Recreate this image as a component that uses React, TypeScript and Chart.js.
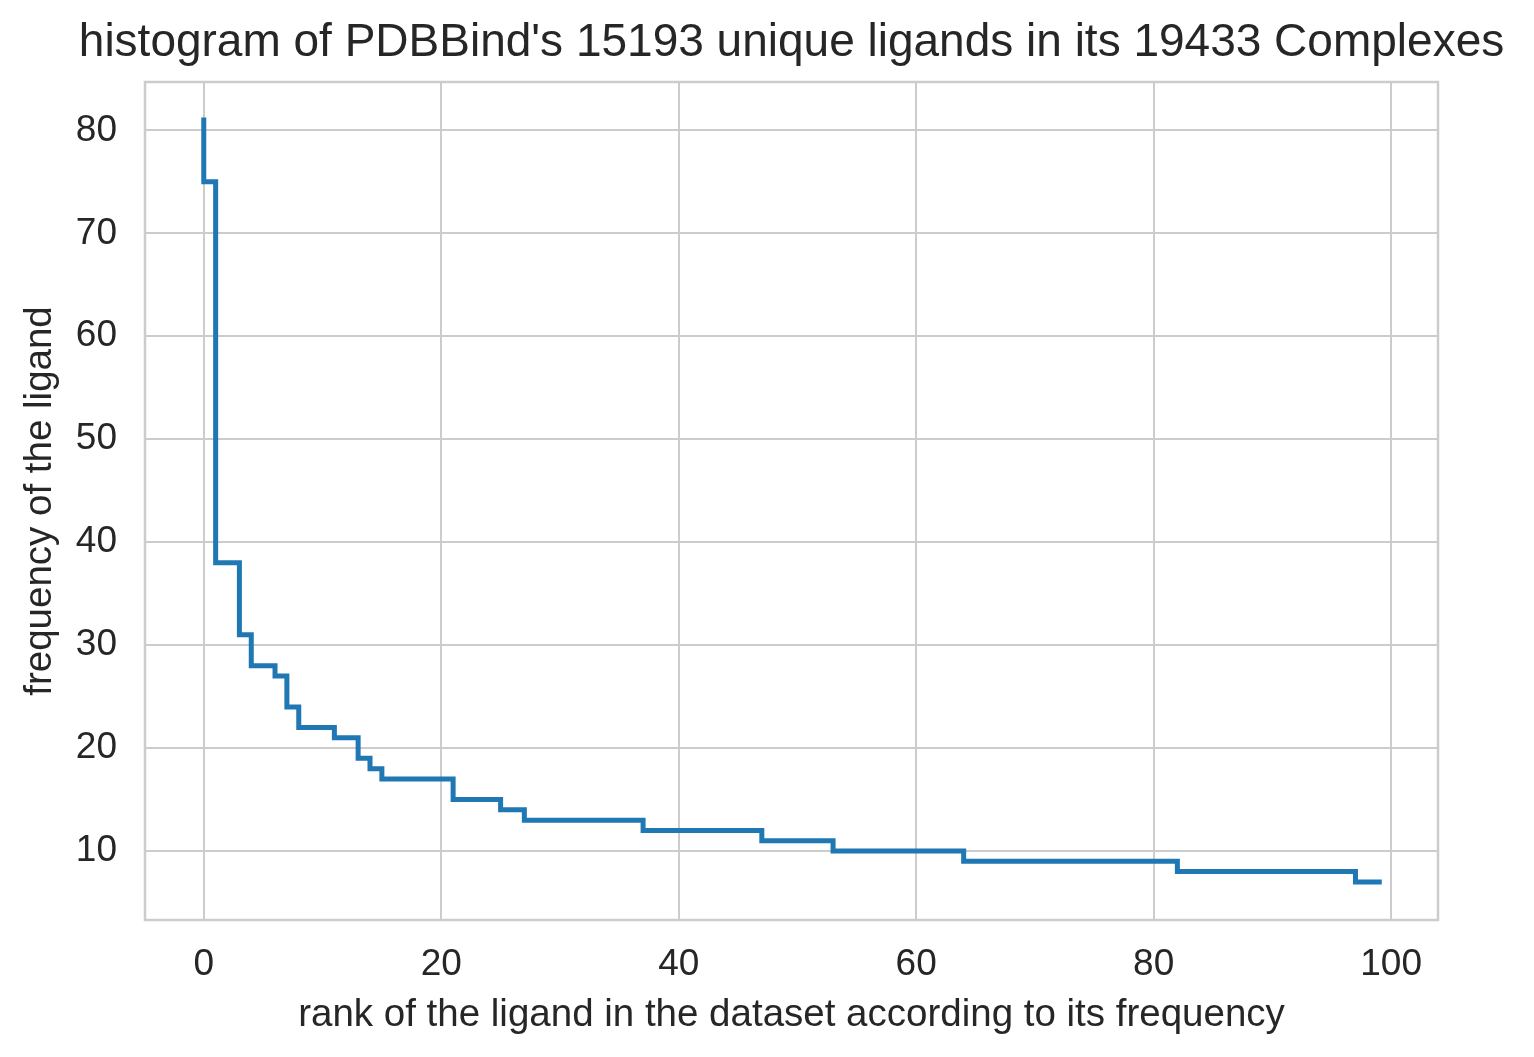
import React, { useEffect, useRef } from 'react';
import { Chart, registerables } from 'chart.js';

Chart.register(...registerables);

// each point closes a step: the line drops at the previous rank, then runs flat to this one
const stepRanks = [0, 1, 3, 4, 6, 7, 8, 11, 13, 14, 15, 21, 25, 27, 37, 47, 53, 64, 82, 97, 99];
const stepFrequencies = [81, 75, 38, 31, 28, 27, 24, 22, 21, 19, 18, 17, 15, 14, 13, 12, 11, 10, 9, 8, 7];

const xTicks = [0, 20, 40, 60, 80, 100];
const yTicks = [10, 20, 30, 40, 50, 60, 70, 80];

const chartTitle = "histogram of PDBBind's 15193 unique ligands in its 19433 Complexes";

const textColor = '#262626';
const gridColor = '#cccccc';
const fontFamily = '"Liberation Sans", Arial, sans-serif';

// frame around the plot area (seaborn whitegrid spines)
const framePlugin = {
  id: 'frame',
  beforeDatasetsDraw(chart: Chart) {
    const { ctx, chartArea } = chart;
    ctx.save();
    ctx.strokeStyle = gridColor;
    ctx.lineWidth = 2.5;
    ctx.strokeRect(chartArea.left, chartArea.top, chartArea.right - chartArea.left, chartArea.bottom - chartArea.top);
    ctx.restore();
  },
};

// matplotlib centres the title over the axes, not the whole figure
const axesTitlePlugin = {
  id: 'axesTitle',
  afterDraw(chart: Chart) {
    const { ctx, chartArea } = chart;
    ctx.save();
    ctx.fillStyle = textColor;
    ctx.font = `46px ${fontFamily}`;
    ctx.textAlign = 'center';
    ctx.textBaseline = 'middle';
    ctx.fillText(chartTitle, (chartArea.left + chartArea.right) / 2, 43.5);
    ctx.restore();
  },
};

const App: React.FC = () => {
  const canvasRef = useRef<HTMLCanvasElement | null>(null);
  const chartRef = useRef<Chart | null>(null);

  useEffect(() => {
    if (!canvasRef.current) return;
    const ctx = canvasRef.current.getContext('2d');
    if (!ctx) return;

    if (chartRef.current) chartRef.current.destroy();

    chartRef.current = new Chart(ctx, {
      type: 'line',
      data: {
        datasets: [
          {
            data: stepRanks.map((r, i) => ({ x: r, y: stepFrequencies[i] })),
            stepped: 'after',
            borderColor: '#1f77b4',
            borderWidth: 5,
            borderCapStyle: 'square',
            pointRadius: 0,
            fill: false,
          },
        ],
      },
      options: {
        animation: false,
        responsive: false,
        devicePixelRatio: 1,
        layout: { padding: { left: 0, right: 96, top: 82, bottom: 0 } },
        plugins: {
          legend: { display: false },
          tooltip: { enabled: false },
          title: { display: false },
        },
        scales: {
          x: {
            type: 'linear',
            min: -4.95,
            max: 103.95,
            afterBuildTicks: (scale: any) => {
              scale.ticks = xTicks.map((v) => ({ value: v }));
            },
            afterFit: (scale: any) => {
              scale.height = 137;
            },
            grid: { color: gridColor, lineWidth: 2, drawTicks: false },
            border: { display: false },
            ticks: {
              color: textColor,
              font: { family: fontFamily, size: 37 },
              padding: 23,
              maxRotation: 0,
            },
            title: {
              display: true,
              text: 'rank of the ligand in the dataset according to its frequency',
              color: textColor,
              font: { family: fontFamily, size: 38.5 },
              padding: { top: 0, bottom: 19 },
            },
          },
          y: {
            type: 'linear',
            min: 3.3,
            max: 84.7,
            afterBuildTicks: (scale: any) => {
              scale.ticks = yTicks.map((v) => ({ value: v }));
            },
            afterFit: (scale: any) => {
              scale.width = 145;
            },
            grid: { color: gridColor, lineWidth: 2, drawTicks: false },
            border: { display: false },
            ticks: {
              color: textColor,
              font: { family: fontFamily, size: 37 },
              padding: 28,
            },
            title: {
              display: true,
              text: 'frequency of the ligand',
              color: textColor,
              font: { family: fontFamily, size: 38.5 },
              padding: { top: 17, bottom: 0 },
            },
          },
        },
      },
      plugins: [framePlugin, axesTitlePlugin],
    });

    return () => {
      if (chartRef.current) {
        chartRef.current.destroy();
        chartRef.current = null;
      }
    };
  }, []);

  return (
    <div style={{ position: 'absolute', left: 0, top: 0, width: 1534, height: 1057, background: '#ffffff' }}>
      <canvas ref={canvasRef} width={1534} height={1057}></canvas>
    </div>
  );
};

export default App;
